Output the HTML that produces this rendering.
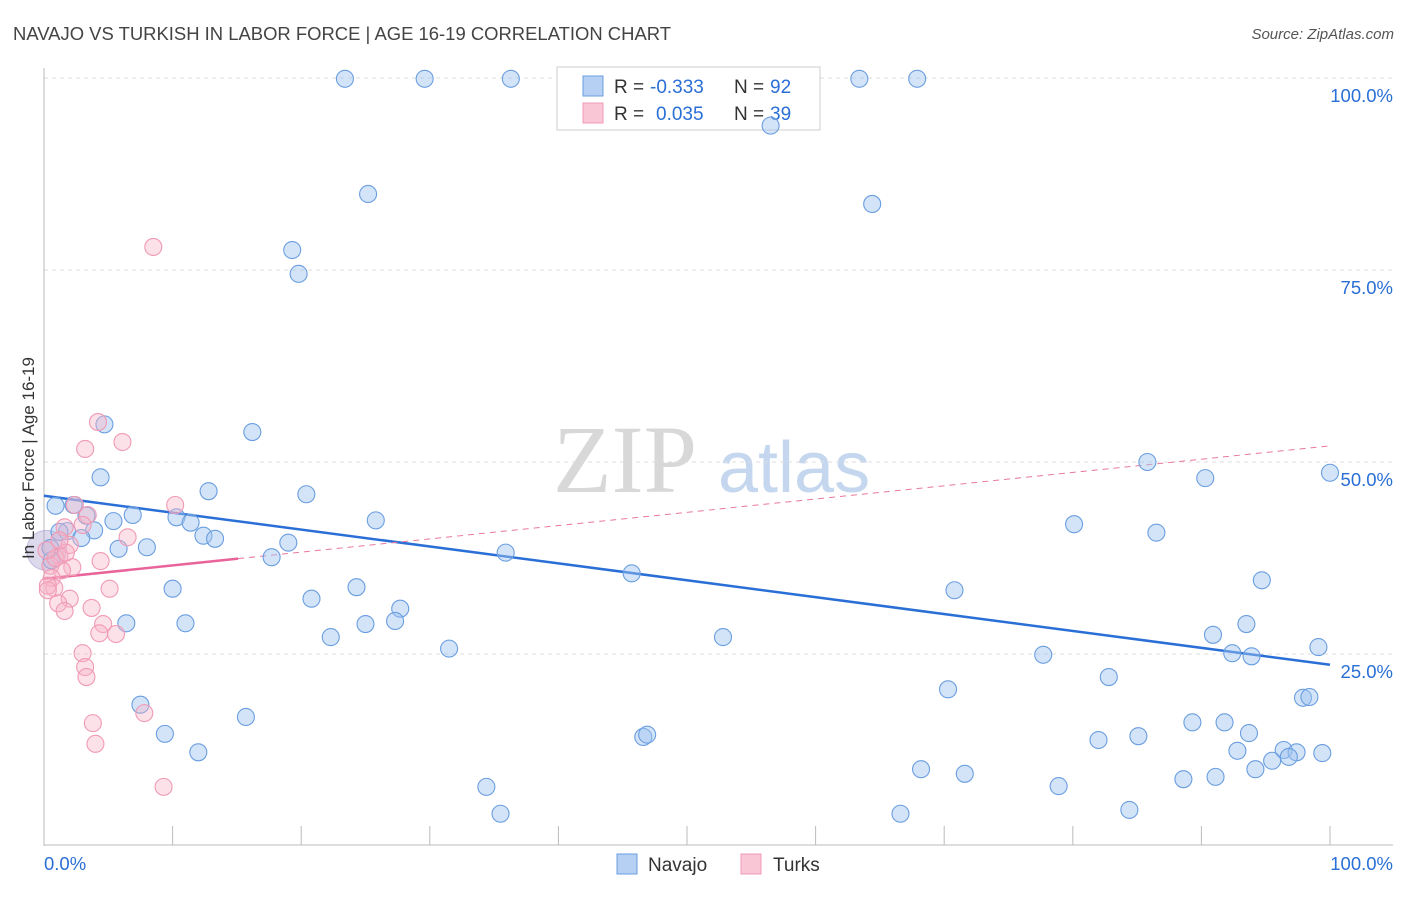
<!DOCTYPE html>
<html><head><meta charset="utf-8"><style>
body{margin:0;background:#fff;font-family:"Liberation Sans",sans-serif}
svg text{font-family:"Liberation Sans",sans-serif}
</style></head><body>
<svg id="chart" width="1406" height="892" xmlns="http://www.w3.org/2000/svg">
<text x="13" y="40" font-size="18" fill="#444" textLength="658" lengthAdjust="spacingAndGlyphs">NAVAJO VS TURKISH IN LABOR FORCE | AGE 16-19 CORRELATION CHART</text>
<text x="1394" y="39" font-size="15" fill="#555" font-style="italic" text-anchor="end">Source: ZipAtlas.com</text>
<text x="553" y="492" font-size="96" fill="#d8d8d8" font-family="Liberation Serif" style="font-family:'Liberation Serif',serif">ZIP</text>
<text x="718" y="492" font-size="72" fill="#c5d7ef">atlas</text>
<g id="grid"></g>
<g id="axes"></g>
<g>
<rect x="557" y="67" width="263" height="63" fill="#fff" stroke="#ccc"/>
<rect x="583" y="76" width="20" height="20" fill="#b6d0f3" stroke="#6a9ee0"/>
<rect x="583" y="103" width="20" height="20" fill="#f9c6d5" stroke="#f09ab4"/>
<text x="614" y="93" font-size="19" fill="#333">R =</text>
<text x="650" y="93" font-size="19" fill="#2a6fd6">-0.333</text>
<text x="734" y="93" font-size="19" fill="#333">N =</text>
<text x="770" y="93" font-size="19" fill="#2a6fd6">92</text>
<text x="614" y="120" font-size="19" fill="#333">R =</text>
<text x="656" y="120" font-size="19" fill="#2a6fd6">0.035</text>
<text x="734" y="120" font-size="19" fill="#333">N =</text>
<text x="770" y="120" font-size="19" fill="#2a6fd6">39</text>
</g>
<g id="trend"></g>
<g id="pts"></g>
<text transform="translate(34,458) rotate(-90)" font-size="17" fill="#333" text-anchor="middle">In Labor Force | Age 16-19</text>
<g>
<rect x="617" y="854" width="20" height="20" fill="#b6d0f3" stroke="#6a9ee0"/>
<text x="648" y="871" font-size="19" fill="#333">Navajo</text>
<rect x="741" y="854" width="20" height="20" fill="#f9c6d5" stroke="#f09ab4"/>
<text x="773" y="871" font-size="19" fill="#333">Turks</text>
</g>
</svg>
<script>
const navX=[23.4,29.6,36.3,63.4,67.9,56.5,25.2,64.4,19.3,19.8,16.2,4.7,4.4,85.8,90.3,100,12.8,20.4,0.9,2.3,3.3,5.4,6.9,10.3,11.4,12.4,13.3,25.8,80.1,86.5,3.9,1.8,2.9,1.2,8.0,5.8,19.0,17.7,35.9,45.7,94.7,10.0,24.3,70.8,20.8,27.7,6.4,11.0,25.0,27.3,90.9,93.5,22.3,52.8,99.1,31.5,92.4,93.9,77.7,82.8,70.3,97.9,98.4,7.5,15.7,9.4,46.6,46.9,12.0,89.3,91.8,85.1,82.0,93.7,92.8,96.4,97.4,99.4,96.8,95.5,68.2,71.6,94.2,88.6,91.1,78.9,34.4,35.5,66.6,84.4,0.5,0.6];
const navY=[99.9,99.9,99.9,99.9,99.9,93.8,84.9,83.6,77.6,74.5,53.9,54.9,48.0,50.0,47.9,48.6,46.2,45.8,44.3,44.4,43.0,42.3,43.1,42.8,42.1,40.4,40.0,42.4,41.9,40.8,41.1,41.0,40.1,40.9,38.9,38.7,39.5,37.6,38.2,35.5,34.6,33.5,33.7,33.3,32.2,30.9,29.0,29.0,28.9,29.3,27.5,28.9,27.2,27.2,25.9,25.7,25.1,24.7,24.9,22.0,20.4,19.3,19.4,18.4,16.8,14.6,14.2,14.5,12.2,16.1,16.1,14.3,13.8,14.7,12.4,12.5,12.2,12.1,11.6,11.1,10.0,9.4,10.0,8.7,9.0,7.8,7.7,4.2,4.2,4.7,38.8,37.2];
const turX=[8.5,4.2,6.1,3.2,10.2,2.4,3.4,1.6,3.0,6.5,2.0,1.2,4.4,0.5,2.2,1.4,0.6,0.8,0.3,5.1,2.0,1.1,1.6,3.7,4.6,4.3,5.6,3.0,3.2,3.3,7.8,3.8,4.0,9.3,0.9,0.2,1.7,0.3,1.2];
const turY=[78.0,55.2,52.6,51.7,44.4,44.4,43.1,41.5,41.8,40.2,39.2,37.8,37.1,36.5,36.3,35.9,34.9,33.6,33.9,33.5,32.2,31.6,30.6,31.0,28.9,27.7,27.6,25.1,23.3,22.0,17.3,16.0,13.3,7.7,37.5,38.5,38.2,33.3,39.8];
const navTrend=[45.6,23.6];
const turTrend=[34.8,52.1];
const turSolidEnd=15.1;
const yTicks=[25,50,75,100];
const yTickLabels=["25.0%","50.0%","75.0%","100.0%"];
const xTicks=[0,10,20,30,40,50,60,70,80,90,100];

const NS="http://www.w3.org/2000/svg";
const sx=v=>44+v*12.86, sy=v=>846-v*7.68;
function mk(tag,attrs,parent){const e=document.createElementNS(NS,tag);for(const k in attrs)e.setAttribute(k,attrs[k]);document.getElementById(parent).appendChild(e);return e;}
yTicks.forEach((t,i)=>{
  const g=mk('line',{x1:44,x2:1393,y1:sy(t),y2:sy(t),stroke:'#ddd','stroke-dasharray':'4,4'},'grid');
  
  
  const l=mk('text',{x:1393,y:sy(t)+24,'font-size':18.5,fill:'#2a6fd6','text-anchor':'end'},'grid');
  l.textContent=yTickLabels[i];
  
  
});
const ax=mk('line',{x1:44,x2:44,y1:68,y2:846,stroke:'#bbb'},'axes');


const bx=mk('line',{x1:44,x2:1393,y1:845,y2:845,stroke:'#bbb'},'axes');


xTicks.slice(1).forEach(t=>{
  const tk=mk('line',{x1:sx(t),x2:sx(t),y1:826,y2:845,stroke:'#bbb'},'axes');
  
  
});
const x0=mk('text',{x:44,y:870,'font-size':18.5,fill:'#2a6fd6'},'axes');x0.textContent='0.0%';


const x1=mk('text',{x:1393,y:870,'font-size':18.5,fill:'#2a6fd6','text-anchor':'end'},'axes');x1.textContent='100.0%';



const big=mk('circle',{cx:sx(0.2),cy:sy(38.5),r:20,fill:'rgba(170,160,210,0.4)',stroke:'rgba(150,140,200,0.5)'},'pts');


navX.forEach((v,i)=>{
  const c=mk('circle',{cx:sx(v),cy:sy(navY[i]),r:8.5,fill:'rgba(160,196,240,0.45)',stroke:'#6a9ee0','stroke-width':1.1},'pts');
  
  
});
turX.forEach((v,i)=>{
  const c=mk('circle',{cx:sx(v),cy:sy(turY[i]),r:8.5,fill:'rgba(248,180,200,0.4)',stroke:'#f09ab4','stroke-width':1.1},'pts');
  
  
});
const nt=mk('line',{x1:sx(0),y1:sy(navTrend[0]),x2:sx(100),y2:sy(navTrend[1]),stroke:'#2a6fd6','stroke-width':2.5},'trend');


const tAt=v=>turTrend[0]+(turTrend[1]-turTrend[0])*v/100;
const td=mk('line',{x1:sx(turSolidEnd),y1:sy(tAt(turSolidEnd)),x2:sx(100),y2:sy(turTrend[1]),stroke:'#e8789c','stroke-width':1,'stroke-dasharray':'6,5'},'trend');


const ts=mk('line',{x1:sx(0),y1:sy(turTrend[0]),x2:sx(turSolidEnd),y2:sy(tAt(turSolidEnd)),stroke:'#e8649a','stroke-width':2.5},'trend');


</script>
</body></html>
